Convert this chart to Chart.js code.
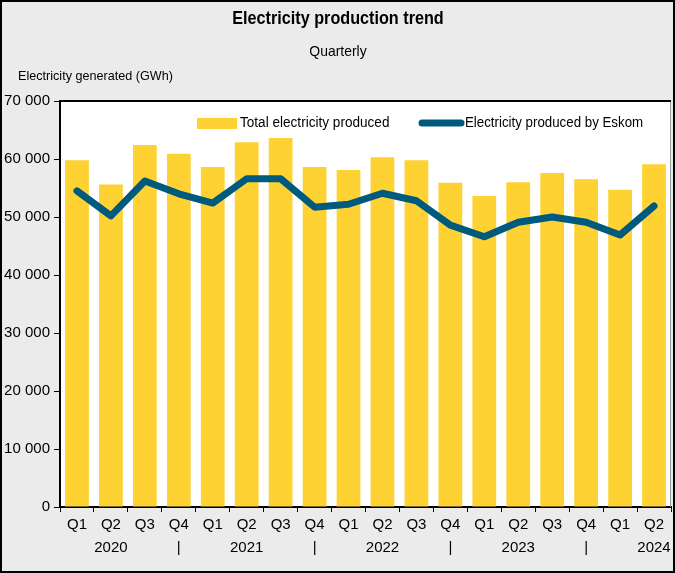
<!DOCTYPE html>
<html>
<head>
<meta charset="utf-8">
<script src="https://cdn.jsdelivr.net/npm/chart.js@4.4.1/dist/chart.umd.min.js"></script>
<style>
    html, body { margin: 0; padding: 0; background: #ebebeb; }
    #wrap { width: 675px; height: 573px; position: relative; }
</style>
</head>
<body>
<div id="wrap"><canvas id="trend"></canvas></div>
<script>
const quarters = ['Q1', 'Q2', 'Q3', 'Q4', 'Q1', 'Q2', 'Q3', 'Q4', 'Q1', 'Q2', 'Q3', 'Q4', 'Q1', 'Q2', 'Q3', 'Q4', 'Q1', 'Q2'];
const yearRow = ['', '2020', '', '|', '', '2021', '', '|', '', '2022', '', '|', '', '2023', '', '|', '', '2024'];
const totalProduced = [59800, 55600, 62400, 60900, 58600, 62900, 63600, 58600, 58100, 60300, 59800, 55900, 53600, 56000, 57600, 56500, 54700, 59100];
const eskomProduced = [54500, 50200, 56200, 54000, 52400, 56600, 56600, 51700, 52200, 54100, 52800, 48600, 46600, 49100, 50000, 49100, 46900, 51900];

const FONT = "'Liberation Sans Narrow', 'Arial Narrow', 'Liberation Sans', Arial, sans-serif";
const BAR_COLOR = '#fdd232';
const LINE_COLOR = '#005a7e';

// text squeezed horizontally, the original uses a narrow face
function narrowText(ctx, text, x, y, sx) {
    ctx.save();
    ctx.translate(x, y);
    ctx.scale(sx, 1);
    ctx.fillText(text, 0, 0);
    ctx.restore();
}

// background, frame, titles and in-plot legend
const decor = {
    id: 'decor',
    beforeDraw(chart) {
        const ctx = chart.ctx;
        const a = chart.chartArea;
        ctx.save();
        ctx.fillStyle = '#ebebeb';
        ctx.fillRect(0, 0, chart.width, chart.height);
        ctx.fillStyle = '#ffffff';
        ctx.fillRect(a.left, a.top, a.right - a.left, a.bottom - a.top);
        ctx.restore();
    },
    afterDraw(chart) {
        const ctx = chart.ctx;
        const a = chart.chartArea;
        ctx.save();
        // plot frame
        ctx.strokeStyle = '#9a9a9a';
        ctx.lineWidth = 1;
        ctx.beginPath();
        ctx.moveTo(a.right - 0.5, a.top);
        ctx.lineTo(a.right - 0.5, a.bottom);
        ctx.stroke();
        ctx.strokeStyle = '#000';
        ctx.lineWidth = 2;
        ctx.beginPath();
        ctx.moveTo(a.left, a.top);
        ctx.lineTo(a.right, a.top);
        ctx.stroke();
        // outer border
        ctx.strokeRect(1, 1, chart.width - 2, chart.height - 2);

        // titles
        ctx.fillStyle = '#000';
        ctx.textBaseline = 'middle';
        ctx.textAlign = 'center';
        ctx.font = 'bold 18px ' + FONT;
        narrowText(ctx, 'Electricity production trend', 338, 19, 0.9);
        ctx.font = '15px ' + FONT;
        narrowText(ctx, 'Quarterly', 338, 52, 0.93);
        ctx.textAlign = 'left';
        ctx.font = '13px ' + FONT;
        narrowText(ctx, 'Electricity generated (GWh)', 18, 76, 0.97);

        // legend
        ctx.font = '14px ' + FONT;
        ctx.fillStyle = BAR_COLOR;
        ctx.fillRect(197, 118, 40, 11);
        ctx.fillStyle = '#000';
        narrowText(ctx, 'Total electricity produced', 240, 123, 0.97);
        ctx.strokeStyle = LINE_COLOR;
        ctx.lineWidth = 7;
        ctx.lineCap = 'round';
        ctx.beginPath();
        ctx.moveTo(422, 123);
        ctx.lineTo(461, 123);
        ctx.stroke();
        narrowText(ctx, 'Electricity produced by Eskom', 465, 123, 0.95);
        ctx.restore();
    }
};

const labels = quarters.map((q, i) => [q, yearRow[i]]);

new Chart(document.getElementById('trend'), {
    data: {
        labels: labels,
        datasets: [
            {
                type: 'line',
                label: 'Electricity produced by Eskom',
                data: eskomProduced,
                borderColor: LINE_COLOR,
                backgroundColor: LINE_COLOR,
                borderWidth: 7,
                pointRadius: 0,
                tension: 0,
                borderCapStyle: 'round',
                borderJoinStyle: 'round',
                order: 0
            },
            {
                type: 'bar',
                label: 'Total electricity produced',
                data: totalProduced,
                backgroundColor: BAR_COLOR,
                barPercentage: 1,
                categoryPercentage: 0.7,
                order: 1
            }
        ]
    },
    options: {
        responsive: true,
        maintainAspectRatio: false,
        animation: false,
        layout: { padding: { top: 101, right: 4, left: 0, bottom: 0 } },
        plugins: {
            legend: { display: false },
            tooltip: { enabled: false }
        },
        scales: {
            x: {
                afterFit: s => { s.height = 66; },
                grid: {
                    offset: true,
                    drawOnChartArea: false,
                    drawTicks: true,
                    tickLength: 5,
                    color: '#000'
                },
                border: { color: '#000', width: 2 },
                ticks: {
                    color: '#000',
                    font: { family: FONT, size: 15, lineHeight: 1.5 },
                    padding: 2,
                    maxRotation: 0,
                    autoSkip: false
                }
            },
            y: {
                min: 0,
                max: 70000,
                afterFit: s => { s.width = 60; },
                grid: {
                    drawOnChartArea: false,
                    drawTicks: true,
                    tickLength: 6,
                    color: '#000'
                },
                border: { color: '#000', width: 2 },
                ticks: {
                    stepSize: 10000,
                    color: '#000',
                    font: { family: FONT, size: 15 },
                    padding: 4,
                    callback: v => v === 0 ? '0' : String(v / 1000) + ' 000'
                }
            }
        }
    },
    plugins: [decor]
});
</script>
</body>
</html>
